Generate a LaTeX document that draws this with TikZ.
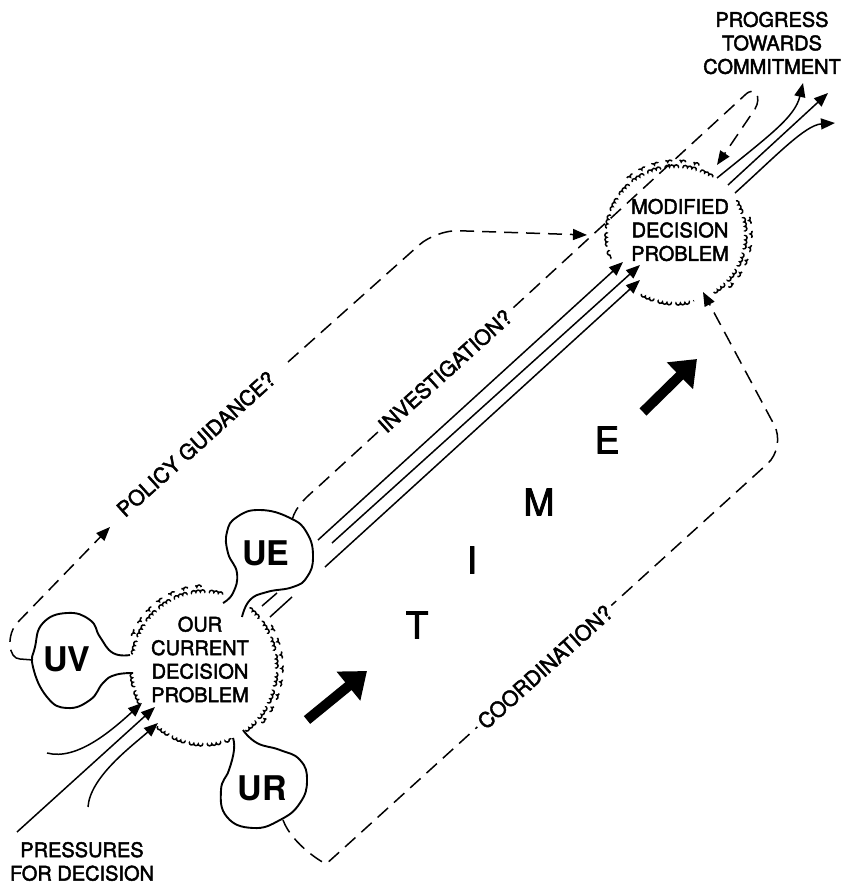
\documentclass[tikz,border=0pt]{standalone}
\usepackage{fontspec}
\setmainfont{TeX Gyre Heros}
\newfontfamily\medfont[FakeBold=2.2]{TeX Gyre Heros}
\usetikzlibrary{arrows.meta,calc,decorations.pathmorphing}
\tikzset{
  cloud line/.style={
    line width=1.5pt,
    dash pattern=on 20pt off 6pt,
    decorate,
    decoration={bumps, amplitude=-2.1pt, segment length=9pt}
  },
  blob line/.style={line width=1.9pt, line join=round},
  flow/.style={line width=1.5pt, >={Triangle[length=14pt,width=11pt]}},
  dash flow/.style={
    line width=1.5pt,
    dash pattern=on 14pt off 8pt,
    >={Triangle[length=14pt,width=11pt]}
  },
  time arrow/.style={line width=10pt, -{Triangle[length=24pt,width=36pt]}},
  plain text/.style={font=\medfont\fontsize{20}{23.5}\selectfont, align=center, inner sep=0pt},
  slope text/.style={font=\medfont\fontsize{21}{24}\selectfont, fill=white, inner sep=4pt, rotate=42},
  unit text/.style={font=\bfseries\fontsize{34}{36}\selectfont, inner sep=0pt},
  time text/.style={font=\medfont\fontsize{37}{40}\selectfont, inner sep=0pt}
}

\begin{document}
\begin{tikzpicture}[x=1pt,y=1pt]
\useasboundingbox (0,0) rectangle (852,887);
% the two decision problems
\coordinate (cur) at (204,219);
\coordinate (mod) at (676,652);
\foreach \a/\b in {75/170,184/208,230/292,305/412}
  \draw[cloud line] ($(cur)+(\a:72pt and 76pt)$) arc[start angle=\a, end angle=\b, x radius=72pt, y radius=76pt];
\foreach \a/\b in {92/158,318/392}
  \draw[cloud line, dash pattern=on 9pt off 11pt] ($(cur)+(\a:77pt and 81pt)$) arc[start angle=\a, end angle=\b, x radius=77pt, y radius=81pt];
\foreach \a/\b in {58/200,240/285,303/393}
  \draw[cloud line] ($(mod)+(\a:69pt and 68pt)$) arc[start angle=\a, end angle=\b, x radius=69pt, y radius=68pt];
\foreach \a/\b in {72/135,315/380}
  \draw[cloud line, dash pattern=on 9pt off 11pt] ($(mod)+(\a:74pt and 73pt)$) arc[start angle=\a, end angle=\b, x radius=74pt, y radius=73pt];
\node[plain text] (curtext) at (200,227.5) {OUR\\CURRENT\\DECISION\\PROBLEM};
\node[plain text] (modtext) at (680,657) {MODIFIED\\DECISION\\PROBLEM};

% the three areas of uncertainty
\draw[blob line] plot[smooth, tension=0.8] coordinates {(130,232) (113,234) (100,250) (90,267) (67,274) (43,264) (35,240) (33,220) (47,190) (67,179) (90,187) (103,204) (115,212) (133,214)};
\draw[blob line] plot[smooth, tension=0.8] coordinates {(223,284) (233,294) (237,314) (228,334) (227,355) (237,370) (260,377) (290,369) (307,354) (313,330) (307,310) (293,300) (267,295) (250,287) (242,270)};
\draw[blob line] plot[smooth, tension=0.8] coordinates {(233,149) (234,137) (229,117) (221,97) (227,70) (253,59) (280,67) (300,84) (307,107) (300,127) (280,137) (257,144) (243,157)};
\node[unit text] (uv) at (67,227.5) {UV};
\node[unit text] (ue) at (266,334) {UE};
\node[unit text] (ur) at (262,99) {UR};

% pressures in, progress out
\draw[flow,->] (47,134) .. controls (77,126) and (112,157) .. (142,184);
\draw[flow,->] (17,55) -- (155,180);
\draw[flow,->] (88,80) .. controls (90,110) and (132,141) .. (158,164);
\draw[flow,->] (318,347) -- (623,625);
\draw[flow] (262,281) -- (277,294);
\draw[flow,->] (332,344) -- (640,622);
\draw[flow] (270,270) -- (292,290);
\draw[flow,->] (325,320) -- (640,607);
\draw[flow,->] (717,709) .. controls (770,752) and (795,770) .. (803,804);
\draw[flow,->] (728,702) -- (828,794);
\draw[flow,->] (735,694) .. controls (775,730) and (805,762) .. (835,764);
\node[plain text] (pressures) at (82,25.5) {PRESSURES\\FOR DECISION};
\node[plain text] (progress) at (772,844) {PROGRESS\\TOWARDS\\COMMITMENT};

% dashed routes
\draw[flow] (33,227) -- (20,228);
\draw[dash flow,->] (20,228) .. controls (8,228) and (6,253) .. (18,265) -- (110,360);
\draw[dash flow,->,rounded corners=22pt] (288,525) -- (436,657) -- (587,652);
\draw[dash flow,->] (292,367) .. controls (296,382) and (309,392) .. (318,400) -- (745,792)
  .. controls (755,802) and (762,790) .. (755,778) -- (717,722);
\draw[dash flow,->,rounded corners=25pt] (283,67) to[out=-70,in=222] (345,40) -- (786,440) -- (703,595);
\node[slope text] (policy) at (196,443) {POLICY GUIDANCE?};
\node[slope text] (invest) at (445,516) {INVESTIGATION?};
\node[slope text] (coord) at (545,220) {COORDINATION?};

% time
\draw[time arrow] (307,167) -- (367,216);
\draw[time arrow] (643,475) -- (697,528);
\foreach \ch/\x/\y in {T/417/262,I/472/327,M/539/385,E/607/447}
  \node[time text] (time\ch) at (\x,\y) {\ch};
\end{tikzpicture}
\end{document}
